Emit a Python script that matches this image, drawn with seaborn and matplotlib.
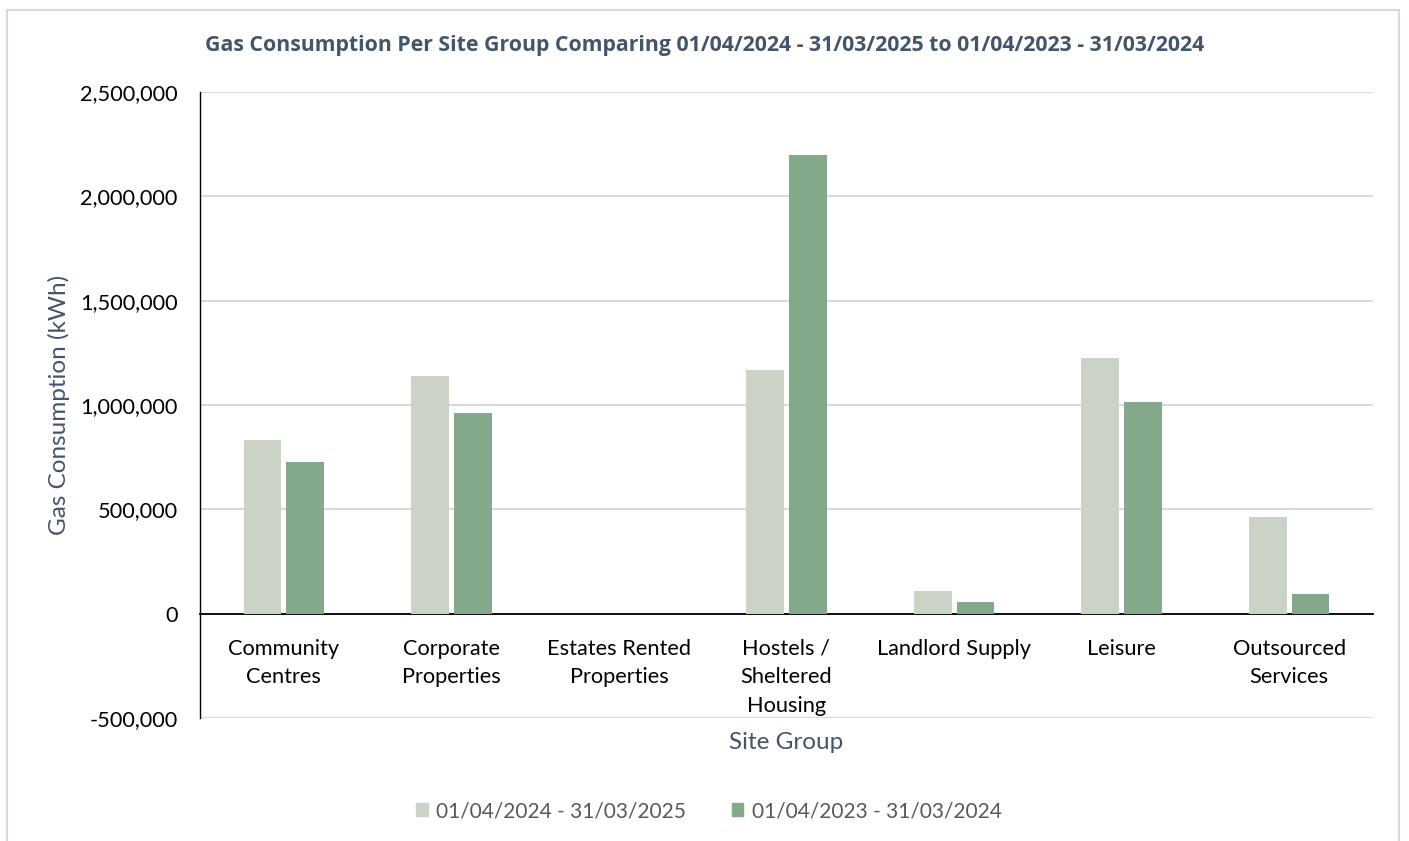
import matplotlib
matplotlib.use("Agg")
import matplotlib.pyplot as plt
import seaborn as sns
import pandas as pd
from matplotlib.patches import Rectangle
from matplotlib.ticker import FuncFormatter

categories = [
    "Community\nCentres",
    "Corporate\nProperties",
    "Estates Rented\nProperties",
    "Hostels /\nSheltered\nHousing",
    "Landlord Supply",
    "Leisure",
    "Outsourced\nServices",
]
series_names = ["01/04/2024 - 31/03/2025", "01/04/2023 - 31/03/2024"]
current_year = [830000, 1140000, 0, 1168000, 110000, 1226000, 464000]
previous_year = [728000, 962000, 0, 2198000, 57000, 1015000, 94000]
y_ticks = [-500000, 0, 500000, 1000000, 1500000, 2000000, 2500000]

palette = ["#CBD3C7", "#83A98A"]
title_color = "#44546A"

df = pd.DataFrame({
    "Site Group": categories * 2,
    "Period": [series_names[0]] * len(categories) + [series_names[1]] * len(categories),
    "kWh": current_year + previous_year,
})

sns.set_style("white")
plt.rcParams["font.family"] = ["Lato", "DejaVu Sans"]

fig = plt.figure(figsize=(14.09, 8.41), dpi=100)
W, H = 1409, 841
ax = fig.add_axes([200 / W, 1 - 718 / H, (1373 - 200) / W, (718 - 92) / H])

# light frame around the chart
fig.patches.append(Rectangle((7 / W, -0.05), (1399 - 7) / W, 1.05 - 10 / H,
                             transform=fig.transFigure, fill=False,
                             edgecolor="#D9D9D9", linewidth=1.5))

sns.barplot(data=df, x="Site Group", y="kWh", hue="Period", order=categories,
            hue_order=series_names, palette=palette, width=0.51, gap=0.12,
            saturation=1, linewidth=0, ax=ax, legend=False, zorder=3)

ax.set_ylim(-500000, 2500000)
ax.set_yticks(y_ticks)
ax.yaxis.set_major_formatter(FuncFormatter(lambda v, p: f"{int(v):,}"))
ax.grid(axis="y", color="#D9D9D9", linewidth=1.5, zorder=0)
ax.set_axisbelow(True)

for s in ["top", "right"]:
    ax.spines[s].set_visible(False)
ax.spines["bottom"].set_position(("data", 0))
ax.spines["bottom"].set_color("black")
ax.spines["bottom"].set_linewidth(1.3)
ax.spines["left"].set_color("black")
ax.spines["left"].set_linewidth(1.0)

ax.tick_params(axis="both", length=0, labelsize=15.7, colors="black")
ax.tick_params(axis="x", pad=18)
ax.tick_params(axis="y", pad=16)
for lbl in ax.get_xticklabels():
    lbl.set_linespacing(1.55)

ax.set_ylabel("Gas Consumption (kWh)", fontsize=17.5, color=title_color, labelpad=7)
ax.set_xlabel("Site Group", fontsize=17.5, color=title_color)
ax.xaxis.set_label_coords(0.5, -0.023)

fig.text(705 / W, 1 - 45 / H,
         "Gas Consumption Per Site Group Comparing 01/04/2024 - 31/03/2025 to 01/04/2023 - 31/03/2024",
         ha="center", va="center", fontsize=15.3, fontweight="bold",
         color=title_color, family=["Open Sans", "DejaVu Sans"])

handles = [Rectangle((0, 0), 1, 1, color=c) for c in palette]
fig.legend(handles, series_names, loc="center", bbox_to_anchor=(709 / W, 1 - 811 / H),
           ncol=2, frameon=False, fontsize=15, handlelength=0.55, handleheight=0.6,
           handletextpad=0.4, columnspacing=2.2, labelcolor="#595959")

fig.savefig("out.png", dpi=100)
